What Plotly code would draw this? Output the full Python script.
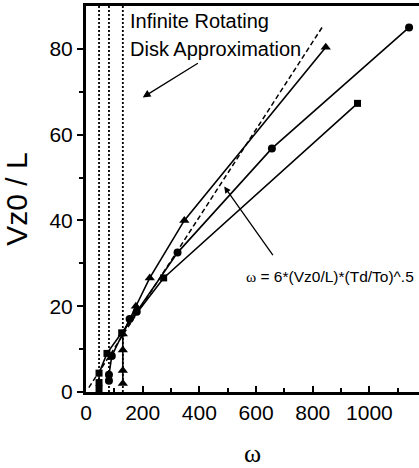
import plotly.graph_objects as go

# Data
sq_w = [46, 46, 46, 74, 126, 274, 958]
sq_v = [0.8, 2.2, 4.4, 9.0, 13.8, 26.6, 67.3]

ci_w = [81, 81, 91, 154, 179, 323, 656, 1140]
ci_v = [2.6, 4.0, 8.4, 17.0, 18.7, 32.5, 56.8, 85.0]

tr_w = [130, 130, 130, 130, 176, 225, 347, 846]
tr_v = [2.0, 5.0, 9.8, 13.5, 20.0, 26.6, 40.0, 80.4]

disk_w = [46, 81, 130]          # infinite rotating disk approximation (vertical dashed)
fit_w = [10, 835]                # omega = 6*(Vz0/L)*(Td/To)^.5
fit_v = [10 / 9.8, 835 / 9.8]

x_ticks = [0, 200, 400, 600, 800, 1000]
y_ticks = [0, 20, 40, 60, 80]
X_MAX, Y_MAX = 1175, 90

fig = go.Figure()

for w in disk_w:
    fig.add_trace(go.Scatter(x=[w, w], y=[0, Y_MAX], mode="lines",
                             line=dict(color="black", width=1.8, dash="2px,2px"),
                             showlegend=False, hoverinfo="skip"))

fig.add_trace(go.Scatter(x=fit_w, y=fit_v, mode="lines",
                         line=dict(color="black", width=1.5, dash="5px,3px"),
                         showlegend=False))

fig.add_trace(go.Scatter(x=sq_w, y=sq_v, mode="lines+markers",
                         line=dict(color="black", width=1.6),
                         marker=dict(symbol="square", size=7, color="black"),
                         showlegend=False))
fig.add_trace(go.Scatter(x=ci_w, y=ci_v, mode="lines+markers",
                         line=dict(color="black", width=1.6),
                         marker=dict(symbol="circle", size=8, color="black"),
                         showlegend=False))
fig.add_trace(go.Scatter(x=tr_w, y=tr_v, mode="lines+markers",
                         line=dict(color="black", width=1.6),
                         marker=dict(symbol="triangle-up", size=9, color="black"),
                         showlegend=False))

font = "Liberation Sans, Arial, sans-serif"

fig.update_layout(
    width=419, height=468,
    margin=dict(l=86, r=0, t=6, b=76),
    plot_bgcolor="white", paper_bgcolor="white",
    font=dict(family=font, color="black", size=21),
    xaxis=dict(range=[0, X_MAX], tickvals=x_ticks, ticks="inside", ticklen=6,
               tickwidth=1.5, tickcolor="black",
               minor=dict(tickvals=[100, 300, 500, 700, 900, 1100], ticks="inside",
                          ticklen=4, tickcolor="black", tickwidth=1.5),
               showline=True, linewidth=3, linecolor="black", mirror=True,
               showgrid=False, zeroline=False,
               tickfont=dict(size=21, family=font),
               title=dict(text="ω", font=dict(family="Liberation Serif, serif", size=26),
                          standoff=22)),
    yaxis=dict(range=[0, Y_MAX], tickvals=y_ticks, ticks="outside", ticklen=6,
               tickwidth=1.5, tickcolor="black",
               minor=dict(tickvals=[10, 30, 50, 70], ticks="outside",
                          ticklen=4, tickcolor="black", tickwidth=1.5),
               showline=True, linewidth=3, linecolor="black",
               showgrid=False, zeroline=False,
               tickfont=dict(size=21, family=font),
               title=dict(text="Vz0 / L", font=dict(size=30, family=font), standoff=16)),
)

def px_x(p):
    return (p - 84) / 0.285

def px_y(p):
    return (392 - p) / 4.28

fig.add_annotation(x=px_x(126), y=px_y(22), xanchor="left", yanchor="middle",
                   text="Infinite Rotating", showarrow=False, font=dict(size=20, family=font))
fig.add_annotation(x=px_x(126), y=px_y(50), xanchor="left", yanchor="middle",
                   text="Disk Approximation", showarrow=False, font=dict(size=20, family=font))
fig.add_annotation(x=px_x(141), y=px_y(98), ax=px_x(198), ay=px_y(63), axref="x", ayref="y",
                   text="", showarrow=True, arrowhead=2, arrowsize=1.2, arrowwidth=1.3,
                   arrowcolor="black")
fig.add_annotation(x=px_x(329), y=px_y(277), xanchor="center", yanchor="middle",
                   text="<span style='font-family:Liberation Serif'>ω</span> = 6*(Vz0/L)*(Td/To)^.5",
                   showarrow=False, font=dict(size=15.5, family=font))
fig.add_annotation(x=px_x(223), y=px_y(187), ax=px_x(273), ay=px_y(257), axref="x", ayref="y",
                   text="", showarrow=True, arrowhead=2, arrowsize=1.0, arrowwidth=1.3,
                   arrowcolor="black")

fig.write_html("out.html", config={"displayModeBar": False},
               post_script="document.body.style.margin='0';document.body.style.padding='0';")
